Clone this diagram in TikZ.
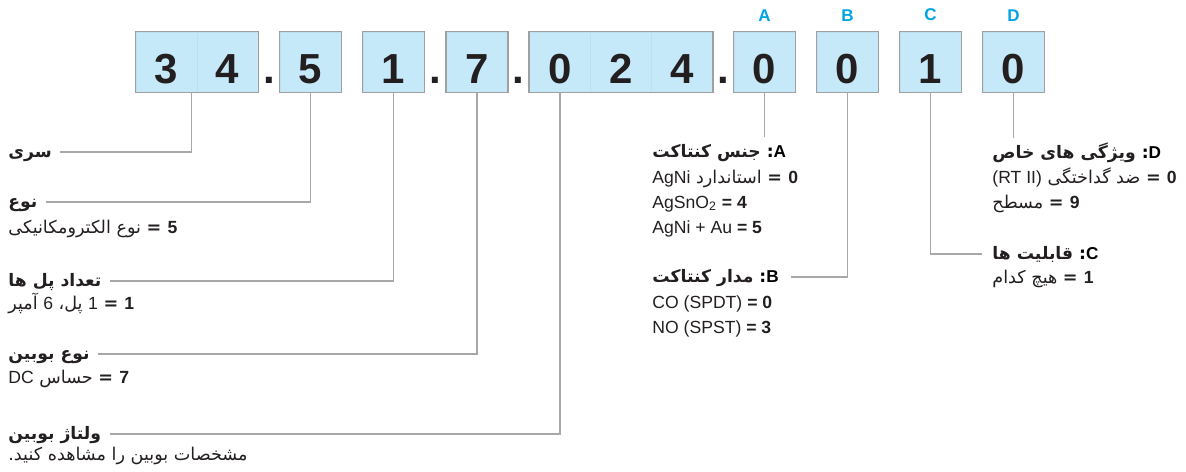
\documentclass[tikz,border=0pt]{standalone}
\usepackage{fontspec}
\setmainfont{Liberation Sans}
\newfontfamily\fafont[Script=Arabic]{DejaVu Sans}
\TeXXeTstate=1
\usetikzlibrary{positioning}
\definecolor{cellblue}{RGB}{198,233,249}
\definecolor{celledge}{RGB}{188,223,241}
\definecolor{framegray}{RGB}{160,160,160}
\definecolor{wiregray}{RGB}{168,168,168}
\definecolor{tagblue}{RGB}{0,163,228}
\definecolor{ink}{RGB}{35,31,32}
\newcommand{\fatext}[1]{{\fafont\beginR #1\endR}}
\newcommand{\entext}[1]{\beginL{\rmfamily #1}\endL}
\tikzstyle{digit}=[rectangle, fill=cellblue, draw=celledge, line width=0.5pt, minimum width=30.5pt, minimum height=30pt, inner sep=0pt, text height=21pt, text depth=0pt, font=\bfseries\fontsize{21}{21}\selectfont, text=ink]
\tikzstyle{frameline}=[draw=framegray, line width=0.9pt]
\tikzstyle{link}=[draw=wiregray, line width=0.65pt]
\tikzstyle{letter}=[inner sep=0pt, text=tagblue, font=\bfseries\fontsize{8.5}{10}\selectfont]
\tikzstyle{heading}=[anchor=base west, inner sep=0pt, text height=10pt, text=ink, font=\bfseries\fontsize{8.6}{10}\selectfont]
\tikzstyle{entry}=[anchor=base west, inner sep=0pt, text=ink, font=\fontsize{8.8}{10}\selectfont]
\tikzstyle{sep}=[anchor=base, inner sep=0pt, text=ink, font=\bfseries\fontsize{21}{21}\selectfont]

\begin{document}
\begin{tikzpicture}[x=0.5pt, y=-0.5pt]
  \useasboundingbox (0,0) rectangle (1186,471);

  %% Code cells
  \draw (166.5,62) node[digit] (ser1) {3};
  \draw (227.5,62) node[digit] (ser2) {4};
  \draw (310.5,62) node[digit] (typ) {5};
  \draw (393.5,62) node[digit] (pol) {1};
  \draw (477,62) node[digit] (coil) {7};
  \draw (560,62) node[digit] (vol1) {0};
  \draw (621,62) node[digit] (vol2) {2};
  \draw (682,62) node[digit] (vol3) {4};
  \draw (764.5,62) node[digit] (optA) {0};
  \draw (847.5,62) node[digit] (optB) {0};
  \draw (930.5,62) node[digit] (optC) {1};
  \draw (1013.5,62) node[digit] (optD) {0};

  \draw[frameline] (ser1.north west) rectangle (ser2.south east);
  \draw[frameline] (typ.north west) rectangle (typ.south east);
  \draw[frameline] (pol.north west) rectangle (pol.south east);
  \draw[frameline] (coil.north west) rectangle (coil.south east);
  \draw[frameline] (vol1.north west) rectangle (vol3.south east);
  \draw[frameline] (optA.north west) rectangle (optA.south east);
  \draw[frameline] (optB.north west) rectangle (optB.south east);
  \draw[frameline] (optC.north west) rectangle (optC.south east);
  \draw[frameline] (optD.north west) rectangle (optD.south east);

  \draw (269,83) node[sep] (dot1) {.};
  \draw (435,83) node[sep] (dot2) {.};
  \draw (518.5,83) node[sep] (dot3) {.};
  \draw (723,83) node[sep] (dot4) {.};

  \node[letter, above=5pt of optA] (tagA) {A};
  \node[letter, above=5pt of optB] (tagB) {B};
  \node[letter, above=5pt of optC] (tagC) {C};
  \node[letter, above=5pt of optD] (tagD) {D};

  %% Left column
  \draw (8,157) node[heading] (serT) {\fatext{سری}};
  \draw (8,207) node[heading] (typT) {\fatext{نوع}};
  \draw (8,233) node[entry] (typV) {\fatext{\textbf{\entext{5} =} نوع الکترومکانیکی}};
  \draw (8,286) node[heading] (polT) {\fatext{تعداد پل ها}};
  \draw (8,309) node[entry] (polV) {\fatext{\textbf{\entext{1} =} \entext{1} پل، \entext{6} آمپر}};
  \draw (8,359) node[heading] (coilT) {\fatext{نوع بوبین}};
  \draw (8,383) node[entry] (coilV) {\fatext{\textbf{\entext{7} =} حساس \entext{DC}}};
  \draw (8,439) node[heading] (volT) {\fatext{ولتاژ بوبین}};
  \draw (8,460) node[entry] (volV) {\fatext{مشخصات بوبین را مشاهده کنید.}};

  %% Options A and B
  \draw (652,157) node[heading] (optAT) {\fatext{{\color{tagblue}\entext{A}:} جنس کنتاکت}};
  \draw (652,183) node[entry] (optA0) {\fatext{\textbf{\entext{0} =} استاندارد \entext{AgNi}}};
  \draw (652,208) node[entry] (optA4) {AgSnO\textsubscript{2} \textbf{= 4}};
  \draw (652,233) node[entry] (optA5) {AgNi + Au \textbf{= 5}};
  \draw (652,282) node[heading] (optBT) {\fatext{{\color{tagblue}\entext{B}:} مدار کنتاکت}};
  \draw (652,308) node[entry] (optB0) {CO (SPDT) \textbf{= 0}};
  \draw (652,333) node[entry] (optB3) {NO (SPST) \textbf{= 3}};

  %% Options D and C
  \draw (992,158) node[heading] (optDT) {\fatext{{\color{tagblue}\entext{D}:} ویژگی های خاص}};
  \draw (992,183) node[entry] (optD0) {\fatext{\textbf{\entext{0} =} ضد گداختگی \entext{(RT II)}}};
  \draw (992,208) node[entry] (optD9) {\fatext{\textbf{\entext{9} =} مسطح}};
  \draw (992,259) node[heading] (optCT) {\fatext{{\color{tagblue}\entext{C}:} قابلیت ها}};
  \draw (992,283) node[entry] (optC1) {\fatext{\textbf{\entext{1} =} هیچ کدام}};

  %% Connectors
  \draw[link] ([xshift=-3pt]ser1.south east) |- ([shift={(4pt,2.5pt)}]serT.base east);
  \draw[link] (typ.south) |- ([shift={(4pt,2.5pt)}]typT.base east);
  \draw[link] (pol.south) |- ([shift={(4pt,2.5pt)}]polT.base east);
  \draw[link] (coil.south) |- ([shift={(4pt,2.5pt)}]coilT.base east);
  \draw[link] (vol1.south) |- ([shift={(4pt,2.5pt)}]volT.base east);
  \draw[link] (optA.south) -- (optA.south |- optAT.north);
  \draw[link] (optB.south) |- ([shift={(6pt,2.5pt)}]optBT.base east);
  \draw[link] (optC.south) |- ([shift={(-5pt,2.5pt)}]optCT.base west);
  \draw[link] (optD.south) -- (optD.south |- optDT.north);
\end{tikzpicture}
\end{document}
